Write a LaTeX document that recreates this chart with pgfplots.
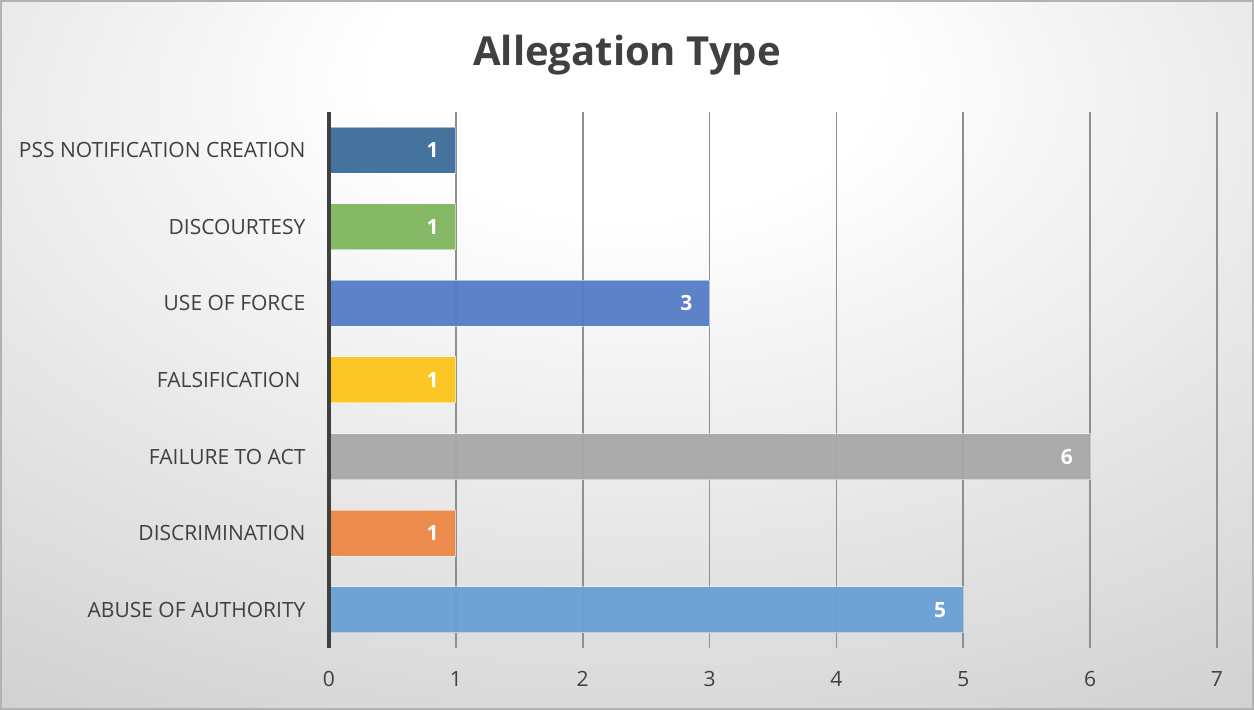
\documentclass[border=0pt]{standalone}
\usepackage{pgfplots}
\pgfplotsset{compat=1.18}
\usepackage{fontspec}
\setmainfont{Open Sans}
\definecolor{txt}{HTML}{404040}
\definecolor{cPSS}{HTML}{3C6C99}
\definecolor{cDisc}{HTML}{80B65D}
\definecolor{cForce}{HTML}{557CC6}
\definecolor{cFals}{HTML}{FCC41C}
\definecolor{cFail}{HTML}{A8A8A8}
\definecolor{cDiscr}{HTML}{EC8845}
\definecolor{cAbuse}{HTML}{67A0D5}
\pgfdeclareradialshading{bgshade}{\pgfpoint{0bp}{22bp}}{color(0bp)=(white); color(10bp)=(white); color(62bp)=(black!27); color(100bp)=(black!34)}
\begin{document}
\begin{tikzpicture}
\useasboundingbox (0,0) rectangle (627pt,355pt);
\shade[shading=bgshade] (0,0) rectangle (627pt,355pt);
\draw[black!30, line width=0.8pt] (0.4pt,0.4pt) rectangle (626.6pt,354.6pt);
\node[font=\bfseries\fontsize{20}{24}\selectfont, text=txt] at (313.5pt,327.5pt) {Allegation Type};
\begin{axis}[
  at={(164.5pt,31pt)}, anchor=south west,
  scale only axis, width=444pt, height=268pt,
  xbar, bar width=23pt, bar shift=0pt,
  xmin=0, xmax=7, ymin=-0.5, ymax=6.5,
  ytick={0,...,6},
  yticklabels={ABUSE OF AUTHORITY, DISCRIMINATION, FAILURE TO ACT, {FALSIFICATION\rule{2.5pt}{0pt}}, USE OF FORCE, DISCOURTESY, PSS NOTIFICATION CREATION},
  xtick={0,...,7},
  xmajorgrids, major grid style={black!44, line width=0.9pt},
  axis lines*=left,
  x axis line style={draw=none},
  y axis line style={draw=none},
  tick style={draw=none},
  ticklabel style={font=\fontsize{10.5}{12}\selectfont, text=txt},
  /pgf/number format/assume math mode=true,
  xticklabel style={yshift=-8pt},
  yticklabel style={xshift=-4pt},
  nodes near coords,
  point meta=x,
  nodes near coords style={font=\bfseries\fontsize{10.5}{12}\selectfont, text=white, anchor=east, xshift=-5pt},
  every axis plot/.append style={draw=white, draw opacity=0.5, line width=0.5pt, fill opacity=0.95, text opacity=1},
  clip=false,
]
\addplot[fill=cAbuse] coordinates {(5,0)};
\addplot[fill=cDiscr] coordinates {(1,1)};
\addplot[fill=cFail] coordinates {(6,2)};
\addplot[fill=cFals] coordinates {(1,3)};
\addplot[fill=cForce] coordinates {(3,4)};
\addplot[fill=cDisc] coordinates {(1,5)};
\addplot[fill=cPSS] coordinates {(1,6)};
\draw[txt, line width=2pt] (axis cs:0,-0.5) -- (axis cs:0,6.5);
\end{axis}
\end{tikzpicture}
\end{document}
